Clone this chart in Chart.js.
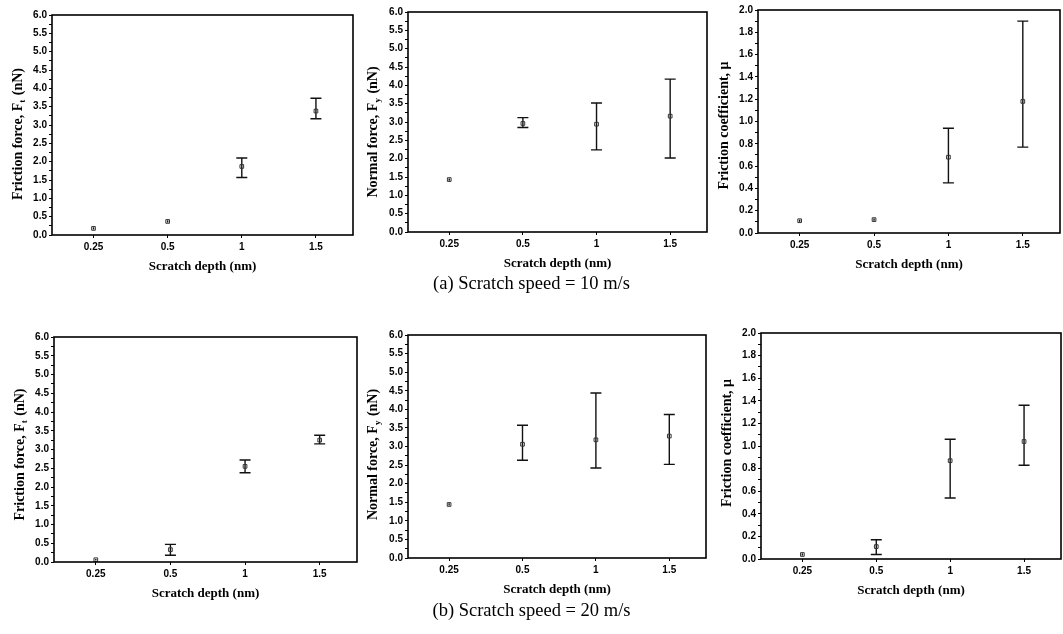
<!DOCTYPE html>
<html>
<head>
<meta charset="utf-8">
<script src="https://cdn.jsdelivr.net/npm/chart.js@4.4.1/dist/chart.umd.min.js"></script>
<style>
  body { margin: 0; background: #fff; width: 1063px; height: 634px; position: relative; overflow: hidden; }
  canvas { position: absolute; }
  .caption { position: absolute; width: 1063px; left: 0; text-align: center; line-height: 22px;
             font-family: "Liberation Serif", serif; font-size: 18.5px; color: #000; }
</style>
</head>
<body>
<canvas id="c1"></canvas>
<canvas id="c2"></canvas>
<canvas id="c3"></canvas>
<canvas id="c4"></canvas>
<canvas id="c5"></canvas>
<canvas id="c6"></canvas>
<div class="caption" style="top:272px">(a) Scratch speed = 10 m/s</div>
<div class="caption" style="top:599px">(b) Scratch speed = 20 m/s</div>
<script>
// x categories (scratch depth, nm)
const depthLabels = ['0.25', '0.5', '1', '1.5'];

// (a) scratch speed 10 m/s
const frictionA     = [0.18, 0.37, 1.87, 3.38];
const frictionALow  = [0.15, 0.34, 1.57, 3.17];
const frictionAHigh = [0.21, 0.40, 2.10, 3.73];

const normalA     = [1.43, 2.96, 2.94, 3.16];
const normalALow  = [1.40, 2.85, 2.24, 2.02];
const normalAHigh = [1.46, 3.12, 3.52, 4.17];

const coeffA     = [0.11, 0.12, 0.68, 1.18];
const coeffALow  = [0.10, 0.11, 0.45, 0.77];
const coeffAHigh = [0.12, 0.13, 0.94, 1.90];

// (b) scratch speed 20 m/s
const frictionB     = [0.06, 0.33, 2.55, 3.25];
const frictionBLow  = [0.04, 0.18, 2.38, 3.15];
const frictionBHigh = [0.08, 0.47, 2.72, 3.38];

const normalB     = [1.44, 3.06, 3.18, 3.28];
const normalBLow  = [1.41, 2.63, 2.42, 2.52];
const normalBHigh = [1.47, 3.57, 4.44, 3.86];

const coeffB     = [0.04, 0.11, 0.87, 1.04];
const coeffBLow  = [0.03, 0.04, 0.54, 0.83];
const coeffBHigh = [0.05, 0.17, 1.06, 1.36];

// y axis settings
const forceMax = 6.0, forceStep = 0.25, forceLabelEvery = 0.5;
const coeffMax = 2.0, coeffStep = 0.1, coeffLabelEvery = 0.2;

/**********************************************************************************
 * PLUGINS
 *********************************************************************************/

// error bars, drawn through the chart scales
const errorBars = {
    id: 'errorBars',
    beforeDatasetsDraw(chart, args, opts) {
        const ctx = chart.ctx;
        const xs = chart.scales.x, ys = chart.scales.y;
        ctx.save();
        ctx.strokeStyle = '#111';
        ctx.lineWidth = 1.4;
        opts.low.forEach((lo, i) => {
            const x = xs.getPixelForValue(i);
            const yLo = ys.getPixelForValue(lo);
            const yHi = ys.getPixelForValue(opts.high[i]);
            ctx.beginPath();
            ctx.moveTo(x, yLo); ctx.lineTo(x, yHi);
            if (yLo - yHi > 6) {
                ctx.moveTo(x - 5.5, yLo); ctx.lineTo(x + 5.5, yLo);
                ctx.moveTo(x - 5.5, yHi); ctx.lineTo(x + 5.5, yHi);
            }
            ctx.stroke();
        });
        ctx.restore();
    }
};

// box round the plot area
const frame = {
    id: 'frame',
    afterDraw(chart) {
        const a = chart.chartArea, ctx = chart.ctx;
        ctx.save();
        ctx.strokeStyle = '#000';
        ctx.lineWidth = 1.6;
        ctx.strokeRect(a.left, a.top, a.right - a.left, a.bottom - a.top);
        ctx.restore();
    }
};

// rotated y title with a subscript
const yTitle = {
    id: 'yTitle',
    afterDraw(chart, args, opts) {
        const a = chart.chartArea, ctx = chart.ctx;
        const big = 'bold 14px "Liberation Serif"', small = 'bold 9px "Liberation Serif"';
        ctx.save();
        ctx.fillStyle = '#000';
        ctx.textBaseline = 'middle';
        ctx.font = big;
        const w1 = ctx.measureText(opts.text).width;
        const w3 = ctx.measureText(opts.after).width;
        ctx.font = small;
        const w2 = opts.sub ? ctx.measureText(opts.sub).width + 1 : 0;
        const total = w1 + w2 + w3;
        ctx.translate(a.left - opts.offset, (a.top + a.bottom) / 2 + opts.shift);
        ctx.rotate(-Math.PI / 2);
        let x = -total / 2;
        ctx.font = big;
        ctx.fillText(opts.text, x, 0);
        x += w1;
        if (opts.sub) {
            ctx.font = small;
            ctx.fillText(opts.sub, x, 5);
            x += w2;
        }
        ctx.font = big;
        ctx.fillText(opts.after, x, 0);
        ctx.restore();
    }
};

/**********************************************************************************
 * CHARTS
 *********************************************************************************/

const tickFont = { family: 'Liberation Sans', weight: 'bold', size: 10 };

function makeChart(id, box, values, low, high, yMax, yStep, yLabelEvery, title) {
    const canvas = document.getElementById(id);
    canvas.width = box.R - box.L + 52 + 4;
    canvas.height = box.B - box.T + 8 + 40;
    canvas.style.left = (box.L - 52) + 'px';
    canvas.style.top = (box.T - 8) + 'px';

    return new Chart(canvas, {
        type: 'scatter',
        data: {
            datasets: [{
                data: values.map((v, i) => ({ x: i, y: v })),
                pointStyle: 'rect',
                pointRadius: 2.6,
                borderColor: '#333',
                borderWidth: 1,
                backgroundColor: 'rgba(255,255,255,0)'
            }]
        },
        options: {
            responsive: false,
            animation: false,
            devicePixelRatio: 1,
            layout: { padding: { top: 8, right: 4, left: 0, bottom: 0 } },
            plugins: {
                legend: { display: false },
                tooltip: { enabled: false },
                errorBars: { low: low, high: high },
                yTitle: Object.assign({}, title, { shift: box.shift })
            },
            scales: {
                x: {
                    type: 'linear',
                    min: -0.56,
                    max: 3.5,
                    afterBuildTicks: s => { s.ticks = depthLabels.map((_, i) => ({ value: i })); },
                    afterFit: s => { s.height = 40; },
                    ticks: {
                        callback: v => depthLabels[v],
                        font: tickFont,
                        color: '#000',
                        padding: 3,
                        maxRotation: 0,
                        autoSkip: false
                    },
                    grid: { drawOnChartArea: false, tickLength: 3, color: '#000' },
                    border: { display: false },
                    title: {
                        display: true,
                        text: 'Scratch depth (nm)',
                        color: '#000',
                        font: { family: 'Liberation Serif', weight: 'bold', size: 13 },
                        padding: { top: 2, bottom: 1 }
                    }
                },
                y: {
                    min: 0,
                    max: yMax,
                    afterFit: s => { s.width = 52; },
                    ticks: {
                        stepSize: yStep,
                        font: tickFont,
                        color: '#000',
                        padding: 2,
                        autoSkip: false,
                        callback: v => {
                            const r = v / yLabelEvery;
                            return Math.abs(r - Math.round(r)) < 1e-6 ? v.toFixed(1) : '';
                        }
                    },
                    grid: { drawOnChartArea: false, tickLength: 3, color: '#000' },
                    border: { display: false }
                }
            }
        },
        plugins: [errorBars, frame, yTitle]
    });
}

// plot areas (left, top, right, bottom) in page pixels, shift = y title offset from centre
const boxes = [
    { L: 52,  T: 15,  R: 354,  B: 235, shift: 9 },
    { L: 408, T: 12,  R: 708,  B: 232, shift: 10 },
    { L: 758, T: 10,  R: 1061, B: 233, shift: 4 },
    { L: 54,  T: 337, R: 358,  B: 562, shift: 5 },
    { L: 408, T: 335, R: 707,  B: 558, shift: 8 },
    { L: 761, T: 333, R: 1062, B: 559, shift: -3 }
];

const frictionTitle = { text: 'Friction force, F', sub: 't', after: ' (nN)', offset: 34 };
const normalTitle   = { text: 'Normal force, F', sub: 'y', after: ' (nN)', offset: 35 };
const coeffTitle    = { text: 'Friction coefficient, \u03bc', sub: '', after: '', offset: 34 };

makeChart('c1', boxes[0], frictionA, frictionALow, frictionAHigh, forceMax, forceStep, forceLabelEvery, frictionTitle);
makeChart('c2', boxes[1], normalA, normalALow, normalAHigh, forceMax, forceStep, forceLabelEvery, normalTitle);
makeChart('c3', boxes[2], coeffA, coeffALow, coeffAHigh, coeffMax, coeffStep, coeffLabelEvery, coeffTitle);
makeChart('c4', boxes[3], frictionB, frictionBLow, frictionBHigh, forceMax, forceStep, forceLabelEvery, frictionTitle);
makeChart('c5', boxes[4], normalB, normalBLow, normalBHigh, forceMax, forceStep, forceLabelEvery, normalTitle);
makeChart('c6', boxes[5], coeffB, coeffBLow, coeffBHigh, coeffMax, coeffStep, coeffLabelEvery, coeffTitle);
</script>
</body>
</html>
